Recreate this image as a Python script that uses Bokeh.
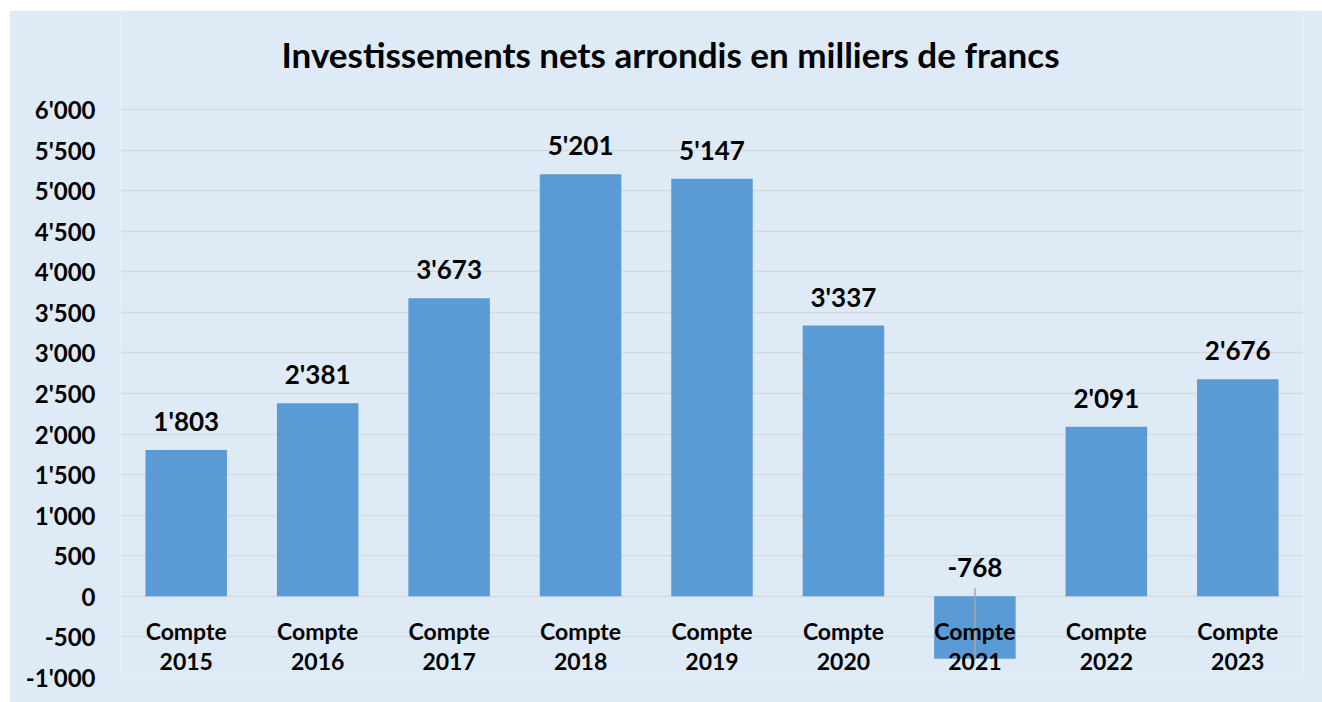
from bokeh.plotting import figure
from bokeh.models import FixedTicker, ColumnDataSource, Label
from bokeh.core.properties import value
from bokeh.embed import file_html
from bokeh.resources import INLINE

years = ["2015", "2016", "2017", "2018", "2019", "2020", "2021", "2022", "2023"]
values = [1803, 2381, 3673, 5201, 5147, 3337, -768, 2091, 2676]
y_ticks = [-1000, -500, 0, 500, 1000, 1500, 2000, 2500, 3000, 3500, 4000, 4500, 5000, 5500, 6000]
y_tick_labels = ["-1'000", "-500", "0", "500", "1'000", "1'500", "2'000", "2'500", "3'000",
                 "3'500", "4'000", "4'500", "5'000", "5'500", "6'000"]
title_text = "Investissements nets arrondis en milliers de francs"
cat_word = "Compte"


def fmt(v):
    s = f"{abs(v):,}".replace(",", "'")
    return ("-" if v < 0 else "") + s


BG = "#deebf7"
BAR = "#5b9bd5"
FONT = "Lato"

src = ColumnDataSource(dict(
    x=years,
    top=values,
    lab=[fmt(v) for v in values],
    laby=[max(v, 0) for v in values],
    word=[cat_word] * len(years),
    zero=[0] * len(years),
))

# axis runs -1000..6000; extra headroom above 6000 holds the title inside the frame
p = figure(x_range=years, y_range=(-1000, 7220), width=1313, height=692,
           output_backend="svg", toolbar_location=None,
           min_border_left=111, min_border_right=19, min_border_top=0, min_border_bottom=25)
p.margin = (10, 0, 0, 9)
p.background_fill_color = BG
p.border_fill_color = BG
p.outline_line_color = None

title = Label(x=550, y=624, x_units="screen", y_units="screen", text=title_text,
              text_font=FONT, text_font_size="35px", text_font_style="bold",
              text_color="#000000", text_align="center", text_baseline="middle")
p.add_layout(title)

p.xaxis.visible = False
p.xgrid.visible = False
p.ygrid.grid_line_color = "#d9d9d9"
p.ygrid.grid_line_width = 1.5
p.yaxis.ticker = FixedTicker(ticks=y_ticks)
p.yaxis.major_label_overrides = {t: l for t, l in zip(y_ticks, y_tick_labels)}
p.yaxis.axis_line_color = None
p.yaxis.major_tick_line_color = None
p.yaxis.minor_tick_line_color = None
p.yaxis.major_label_text_font = FONT
p.yaxis.major_label_text_font_size = "24px"
p.yaxis.major_label_text_font_style = "bold"
p.yaxis.major_label_text_color = "#000000"
p.yaxis.major_label_standoff = 19

p.vbar(x="x", top="top", bottom=0, width=0.62, source=src, fill_color=BAR, line_color=None)

# leader line for the negative label
neg = [(y, v) for y, v in zip(years, values) if v < 0]
if neg:
    p.segment(x0=[n[0] for n in neg], y0=[100] * len(neg), x1=[n[0] for n in neg],
              y1=[n[1] - 20 for n in neg], line_color="#a6a6a6", line_width=1.5)

p.text(x="x", y="laby", text="lab", source=src, y_offset=-29,
       text_align="center", text_baseline="middle",
       text_font=value(FONT), text_font_size="26px", text_font_style="bold", text_color="#000000")

p.text(x="x", y="zero", text="word", source=src, y_offset=35,
       text_align="center", text_baseline="middle",
       text_font=value(FONT), text_font_size="23px", text_font_style="bold", text_color="#000000")
p.text(x="x", y="zero", text="x", source=src, y_offset=65,
       text_align="center", text_baseline="middle",
       text_font=value(FONT), text_font_size="23px", text_font_style="bold", text_color="#000000")

open("out.html", "w").write(file_html(p, INLINE))
